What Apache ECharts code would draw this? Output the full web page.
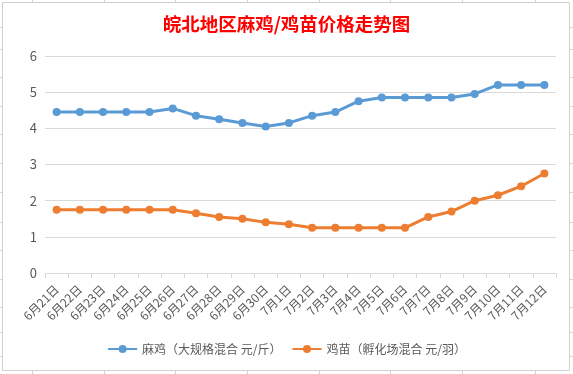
<!DOCTYPE html>
<html>
<head>
<meta charset="utf-8">
<script src="https://cdn.jsdelivr.net/npm/echarts@6/dist/echarts.min.js"></script>
<style>
html,body{margin:0;padding:0;background:#fff;}
#chart{width:573px;height:374px;}
</style>
</head>
<body>
<div id="chart"></div>
<script>
var titleText = '皖北地区麻鸡/鸡苗价格走势图';
var categories = ['6月21日','6月22日','6月23日','6月24日','6月25日','6月26日','6月27日','6月28日','6月29日','6月30日',
  '7月1日','7月2日','7月3日','7月4日','7月5日','7月6日','7月7日','7月8日','7月9日','7月10日','7月11日','7月12日'];
var seriesNames = ['麻鸡（大规格混合 元/斤）','鸡苗（孵化场混合 元/羽）'];
var maJi = [4.45,4.45,4.45,4.45,4.45,4.55,4.35,4.25,4.15,4.05,4.15,4.35,4.45,4.75,4.85,4.85,4.85,4.85,4.95,5.2,5.2,5.2];
var jiMiao = [1.75,1.75,1.75,1.75,1.75,1.75,1.65,1.55,1.5,1.4,1.35,1.25,1.25,1.25,1.25,1.25,1.55,1.7,2.0,2.15,2.4,2.75];
var yTicks = [0,1,2,3,4,5,6];

// spreadsheet background lines (decoration)
var sheetCols = [32,104,175,247,319,390,462,535];
var sheetRows = [27,49,77,106,134,163,192,222,250,279,307,332,356];
var gfx = [];
sheetCols.forEach(function(x){
  gfx.push({type:'line', z:-10, shape:{x1:x+0.5,y1:0,x2:x+0.5,y2:374}, style:{stroke:'#d4d4d4',lineWidth:1}});
});
sheetRows.forEach(function(y){
  gfx.push({type:'line', z:-10, shape:{x1:0,y1:y+0.5,x2:573,y2:y+0.5}, style:{stroke:'#d4d4d4',lineWidth:1}});
});
gfx.push({type:'rect', z:-5, shape:{x:2.5,y:2.5,width:567,height:368}, style:{fill:'#ffffff',stroke:'#d0d0d0',lineWidth:1}});

var chart = echarts.init(document.getElementById('chart'), null, {renderer:'canvas'});
chart.setOption({
  backgroundColor:'#ffffff',
  animation:false,
  graphic:{elements:gfx},
  title:{
    text:titleText, left:'center', top:10,
    textStyle:{color:'#ff0000', fontSize:18.5, fontWeight:'bold', fontFamily:'Noto Sans CJK SC'}
  },
  legend:{
    bottom:14, left:'center', itemWidth:29, itemHeight:10, itemGap:10,
    textStyle:{color:'#595959', fontSize:12, fontFamily:'Noto Sans CJK SC'},
    data:seriesNames
  },
  grid:{left:45, right:17, top:56, bottom:101},
  xAxis:{
    type:'category', data:categories, boundaryGap:true,
    axisLine:{lineStyle:{color:'#d9d9d9'}},
    axisTick:{show:true, alignWithLabel:false, length:5, lineStyle:{color:'#d9d9d9'}},
    axisLabel:{rotate:45, interval:0, margin:14, color:'#595959', fontSize:12, fontFamily:'Noto Sans CJK SC'}
  },
  yAxis:{
    type:'value', min:yTicks[0], max:yTicks[yTicks.length-1], interval:1,
    axisLine:{show:false}, axisTick:{show:false},
    splitLine:{lineStyle:{color:'#d9d9d9'}},
    axisLabel:{margin:8, color:'#595959', fontSize:13, fontFamily:'Noto Sans CJK SC'}
  },
  series:[
    {name:seriesNames[0], type:'line', data:maJi, symbol:'circle', symbolSize:8,
     lineStyle:{width:3, color:'#5b9bd5'}, itemStyle:{color:'#5b9bd5'}},
    {name:seriesNames[1], type:'line', data:jiMiao, symbol:'circle', symbolSize:8,
     lineStyle:{width:3, color:'#ed7d31'}, itemStyle:{color:'#ed7d31'}}
  ]
});
</script>
</body>
</html>
